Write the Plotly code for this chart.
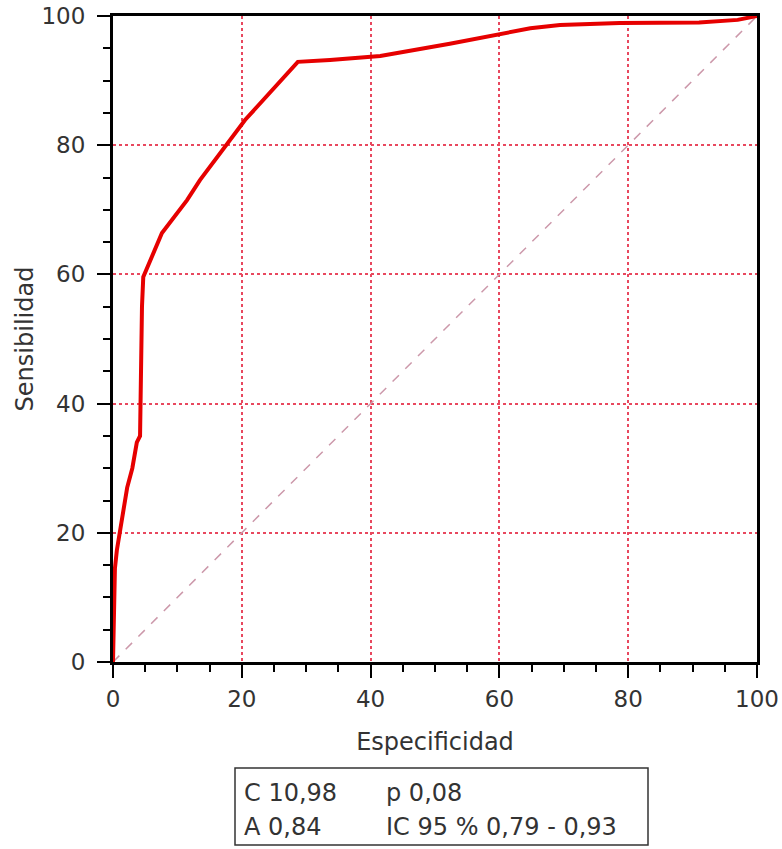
import plotly.graph_objects as go

# ROC curve data
especificidad = [0, 0.3, 0.6, 1.6, 2.2, 3.0, 3.7, 4.2, 4.3, 4.5, 4.7, 7.6, 11.5, 13.5,
                 20.5, 28.7, 33.7, 41.5, 52.3, 64.8, 69.4, 78.7, 91, 97, 100]
sensibilidad = [0, 14.5, 17.3, 24, 27, 30, 34, 35, 47.8, 55, 59.6, 66.4, 71.5, 74.6,
                83.9, 92.9, 93.2, 93.8, 95.7, 98.1, 98.6, 98.9, 99, 99.4, 100]
diag = [0, 100]
tick_vals = [0, 20, 40, 60, 80, 100]
stats_row1 = ["C 10,98", "p 0,08"]
stats_row2 = ["A 0,84", "IC 95 % 0,79 - 0,93"]

FONT = "DejaVu Sans"
TXT = "#333333"

fig = go.Figure()
fig.add_trace(go.Scatter(x=diag, y=diag, mode="lines",
                         line=dict(color="#cc98aa", width=1.5, dash="dash"),
                         hoverinfo="skip", showlegend=False))
fig.add_trace(go.Scatter(x=especificidad, y=sensibilidad, mode="lines",
                         line=dict(color="#e60000", width=4),
                         showlegend=False))

axis_common = dict(
    range=[0, 100], tickvals=tick_vals, showline=True, linecolor="black",
    linewidth=3, mirror=True, ticks="outside", ticklen=13, tickwidth=2,
    tickcolor="black", showgrid=True, gridcolor="#e8485e", gridwidth=1.5,
    griddash="dot", zeroline=False, automargin=False,
    ticklabeloverflow="allow",
    tickfont=dict(family=FONT, size=23, color=TXT),
    minor=dict(dtick=5, ticks="outside", ticklen=7, tickwidth=2,
               tickcolor="black", showgrid=False),
)

fig.update_xaxes(**axis_common, ticklabelstandoff=1,
                 title=dict(text="Especificidad", standoff=23,
                            font=dict(family=FONT, size=24, color=TXT)))
fig.update_yaxes(**axis_common, ticklabelstandoff=7,
                 title=dict(text="Sensibilidad", standoff=2,
                            font=dict(family=FONT, size=24, color=TXT)))

W, H = 782, 849
# plot area in page pixels: x 113..757, y 16..662
L, R, T, B = 113, 782 - 757, 16, 849 - 662
pw, ph = W - L - R, H - T - B

def px(xp):
    return (xp - L) / pw

def py(yp):
    return (H - B - yp) / ph

fig.add_shape(type="rect", xref="paper", yref="paper",
              x0=px(235), x1=px(648), y0=py(768), y1=py(845),
              line=dict(color="#333333", width=1.5), fillcolor="white")

for row, yy in ((stats_row1, 793), (stats_row2, 827)):
    for txt, xx in zip(row, (242, 384)):
        fig.add_annotation(text=txt, xref="paper", yref="paper",
                           x=px(xx), y=py(yy), xanchor="left", yanchor="middle",
                           showarrow=False,
                           font=dict(family=FONT, size=24, color=TXT))

fig.update_layout(width=W, height=H, margin=dict(l=L, r=R, t=T, b=B),
                  plot_bgcolor="white", paper_bgcolor="white")

fig.write_html("out.html",
               config={"displayModeBar": False},
               post_script="document.body.style.margin='0';document.body.style.overflow='hidden';")
